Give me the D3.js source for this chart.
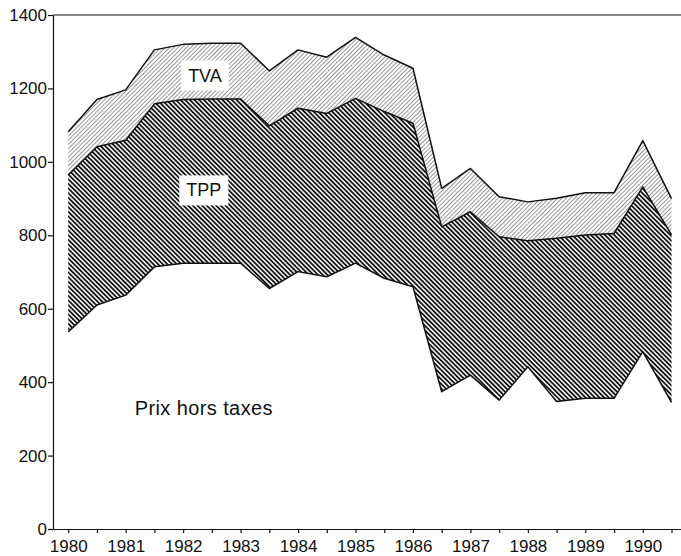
<!DOCTYPE html>
<html>
<head>
<meta charset="utf-8">
<script src="https://cdn.jsdelivr.net/npm/d3@7"></script>
<style>
body { margin: 0; background: #fff; }
text { font-family: "Liberation Sans", Arial, sans-serif; fill: #111; }
</style>
</head>
<body>
<div id="chart"></div>
<script>
// half-year observations
var years = [1980, 1980.5, 1981, 1981.5, 1982, 1982.5, 1983, 1983.5, 1984, 1984.5, 1985,
             1985.5, 1986, 1986.5, 1987, 1987.5, 1988, 1988.5, 1989, 1989.5, 1990, 1990.5];
var prixHT = [537, 610, 637, 714, 724, 724, 724, 655, 701, 687, 724,
              683, 660, 374, 419, 351, 442, 347, 356, 356, 483, 345];
var tpp = [427, 431, 422, 444, 446, 447, 447, 443, 445, 445, 449,
           454, 445, 449, 445, 445, 343, 445, 445, 449, 449, 456];
var tva = [118, 129, 137, 147, 150, 152, 152, 150, 159, 153, 166,
           154, 150, 105, 118, 109, 106, 109, 115, 111, 126, 99];
var yTicks = [0, 200, 400, 600, 800, 1000, 1200, 1400];
var yearLabels = [1980, 1981, 1982, 1983, 1984, 1985, 1986, 1987, 1988, 1989, 1990];

var width = 681;
var height = 556;

var x = d3.scaleLinear().domain([1979.735, 1990.665]).range([53, 681]);
var y = d3.scaleLinear().domain([0, 1400]).range([529, 15]);

var svg = d3.select('#chart')
    .append('svg')
    .attr('width', width)
    .attr('height', height);

var defs = svg.append('defs');

var pTpp = defs.append('pattern')
    .attr('id', 'hatchTPP')
    .attr('patternUnits', 'userSpaceOnUse')
    .attr('width', 3.3)
    .attr('height', 3.3)
    .attr('patternTransform', 'rotate(-45)');
pTpp.append('rect').attr('width', 3.3).attr('height', 3.3).attr('fill', '#fff');
pTpp.append('rect').attr('width', 1.8).attr('height', 3.3).attr('fill', '#111');

var pTva = defs.append('pattern')
    .attr('id', 'hatchTVA')
    .attr('patternUnits', 'userSpaceOnUse')
    .attr('width', 3)
    .attr('height', 3)
    .attr('patternTransform', 'rotate(45)');
pTva.append('rect').attr('width', 3).attr('height', 3).attr('fill', '#fff');
pTva.append('rect').attr('width', 0.9).attr('height', 3).attr('fill', '#8a8a8a');

var rows = years.map(function(yr, i) {
    return {year: yr, prix: prixHT[i], tpp: tpp[i], tva: tva[i]};
});

var stack = d3.stack().keys(['prix', 'tpp', 'tva']);
var series = stack(rows);
var fills = {prix: '#fff', tpp: 'url(#hatchTPP)', tva: 'url(#hatchTVA)'};

var area = d3.area()
    .x(function(d) { return x(d.data.year); })
    .y0(function(d) { return y(d[0]); })
    .y1(function(d) { return y(d[1]); });

svg.selectAll('path.layer')
    .data(series)
    .enter()
    .append('path')
    .attr('class', 'layer')
    .attr('d', area)
    .attr('fill', function(d) { return fills[d.key]; });

// boundary lines between layers
var line = d3.line()
    .x(function(d) { return x(d.data.year); })
    .y(function(d) { return y(d[1]); });

svg.selectAll('path.edge')
    .data(series)
    .enter()
    .append('path')
    .attr('class', 'edge')
    .attr('d', line)
    .attr('fill', 'none')
    .attr('stroke', '#111')
    .attr('stroke-width', 1.5)
    .attr('stroke-linejoin', 'round');

// outer outline of the whole stack (vertical sides)
var top = series[series.length - 1];
svg.append('path')
    .attr('d', d3.area()
        .x(function(d) { return x(d.data.year); })
        .y0(y(0))
        .y1(function(d) { return y(d[1]); })(top))
    .attr('fill', 'none')
    .attr('stroke', '#111')
    .attr('stroke-width', 1.3);

// axes
var yAxis = d3.axisLeft(y).tickValues(yTicks).tickFormat(d3.format('d'))
    .tickSize(5).tickSizeOuter(0).tickPadding(1);
var gy = svg.append('g').attr('transform', 'translate(' + x.range()[0] + ',0)').call(yAxis);
gy.selectAll('text').attr('font-size', 17).attr('font-family', '"Liberation Sans", Arial, sans-serif');

var xAxis = d3.axisBottom(x).tickValues(years).tickSize(4).tickSizeOuter(0).tickPadding(7)
    .tickFormat(function(d) { return yearLabels.indexOf(d) >= 0 ? d : ''; });
var gx = svg.append('g').attr('transform', 'translate(0,' + y(0) + ')').call(xAxis);
gx.selectAll('text').attr('font-size', 17).attr('font-family', '"Liberation Sans", Arial, sans-serif');

svg.selectAll('.domain, .tick line').attr('stroke', '#111').attr('stroke-width', 1.2);

svg.append('line')
    .attr('x1', x.range()[0])
    .attr('x2', x.range()[1])
    .attr('y1', y(1400))
    .attr('y2', y(1400))
    .attr('stroke', '#111')
    .attr('stroke-width', 1.2);

// series labels
var labels = [
    {text: 'TVA', year: 1982.38, value: 1236, box: true, size: 18, spacing: 0},
    {text: 'TPP', year: 1982.36, value: 923, box: true, size: 18, spacing: 0},
    {text: 'Prix hors taxes', year: 1982.36, value: 330, box: false, size: 20, spacing: 0.4}
];

labels.forEach(function(l) {
    var g = svg.append('g');
    var t = g.append('text')
        .attr('x', x(l.year))
        .attr('y', y(l.value))
        .attr('dy', '0.35em')
        .attr('text-anchor', 'middle')
        .attr('font-size', l.size)
        .attr('letter-spacing', l.spacing)
        .text(l.text);
    if (l.box) {
        var b = t.node().getBBox();
        g.insert('rect', 'text')
            .attr('x', b.x - 7)
            .attr('y', b.y - 5)
            .attr('width', b.width + 14)
            .attr('height', b.height + 10)
            .attr('fill', '#fff');
    }
});
</script>
</body>
</html>
